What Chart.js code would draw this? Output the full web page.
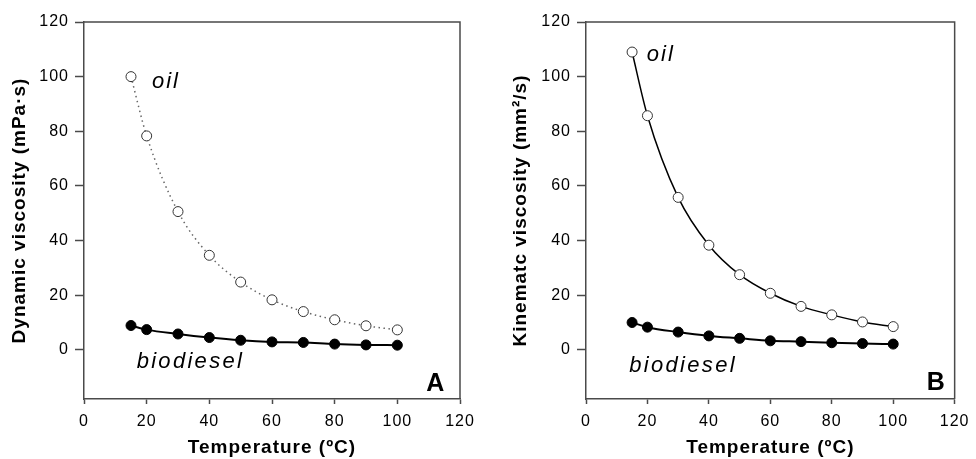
<!DOCTYPE html>
<html>
<head>
<meta charset="utf-8">
<script src="https://cdn.jsdelivr.net/npm/chart.js@4/dist/chart.umd.min.js"></script>
<style>
    html, body { margin: 0; padding: 0; background: #fff; }
    .wrap { display: flex; width: 976px; height: 459px; }
    .panel { position: relative; width: 488px; height: 459px; }
</style>
</head>
<body>
<div class="wrap">
    <div class="panel"><canvas id="chartA"></canvas></div>
    <div class="panel"><canvas id="chartB"></canvas></div>
</div>
<script>
// Data
const temperature = [15, 20, 30, 40, 50, 60, 70, 80, 90, 100];
const oilDynamic = [100, 78.3, 50.6, 34.6, 24.8, 18.3, 14.0, 11.0, 8.8, 7.3];
const biodieselDynamic = [8.9, 7.4, 5.8, 4.5, 3.5, 2.9, 2.7, 2.1, 1.8, 1.7];
const oilKinematic = [109, 85.7, 55.8, 38.3, 27.5, 20.7, 15.9, 12.8, 10.2, 8.5];
const biodieselKinematic = [10.0, 8.3, 6.5, 5.1, 4.2, 3.3, 3.0, 2.6, 2.3, 2.1];
const xTickValues = [0, 20, 40, 60, 80, 100, 120];
const yTickValues = [0, 20, 40, 60, 80, 100, 120];

const FONT = '"Liberation Sans", Arial, sans-serif';
const AXIS_COLOR = '#4a4a4a';

function toPoints(xs, ys) {
    return xs.map((x, i) => ({ x: x, y: ys[i] }));
}

// Text labels inside the plot, placed in data units
const textLabels = {
    id: 'textLabels',
    afterDatasetsDraw(chart, args, opts) {
        const ctx = chart.ctx;
        const xs = chart.scales.x;
        const ys = chart.scales.y;
        (opts.items || []).forEach(item => {
            ctx.save();
            ctx.font = item.font;
            ctx.letterSpacing = item.spacing || '0px';
            ctx.fillStyle = '#000';
            ctx.textAlign = 'left';
            ctx.textBaseline = 'alphabetic';
            ctx.fillText(item.text, xs.getPixelForValue(item.x), ys.getPixelForValue(item.y));
            ctx.restore();
        });
    }
};

// Top and right border of the plot box
const frame = {
    id: 'frame',
    beforeDatasetsDraw(chart) {
        const { ctx, chartArea } = chart;
        ctx.save();
        ctx.strokeStyle = AXIS_COLOR;
        ctx.lineWidth = 1.5;
        ctx.beginPath();
        ctx.moveTo(chartArea.left, chartArea.top);
        ctx.lineTo(chartArea.right, chartArea.top);
        ctx.lineTo(chartArea.right, chartArea.bottom);
        ctx.stroke();
        ctx.restore();
    }
};

// Slight letter spacing for axis text, as in the figure
const spacing = {
    id: 'spacing',
    beforeDraw(chart) { chart.ctx.letterSpacing = '1px'; },
    afterDraw(chart) { chart.ctx.letterSpacing = '0px'; }
};

function makeChart(canvasId, cfg) {
    const ctx = document.getElementById(canvasId).getContext('2d');
    return new Chart(ctx, {
        type: 'line',
        data: {
            datasets: [
                {
                    label: 'oil',
                    data: toPoints(temperature, cfg.oil),
                    borderColor: cfg.oilDotted ? '#666' : '#000',
                    borderWidth: 1.5,
                    borderDash: cfg.oilDotted ? [1.5, 3.5] : [],
                    cubicInterpolationMode: 'monotone',
                    pointRadius: 5,
                    pointBackgroundColor: '#fff',
                    pointBorderColor: '#333',
                    pointBorderWidth: 1
                },
                {
                    label: 'biodiesel',
                    data: toPoints(temperature, cfg.biodiesel),
                    borderColor: '#000',
                    borderWidth: 2,
                    cubicInterpolationMode: 'monotone',
                    pointRadius: 5,
                    pointBackgroundColor: '#000',
                    pointBorderColor: '#000',
                    pointBorderWidth: 1
                }
            ]
        },
        options: {
            responsive: false,
            animation: false,
            layout: { padding: { left: 0, top: 22, right: cfg.padRight, bottom: 0 } },
            plugins: {
                legend: { display: false },
                tooltip: { enabled: false },
                textLabels: { items: cfg.labels }
            },
            scales: {
                x: {
                    type: 'linear',
                    min: 0,
                    max: 120,
                    afterBuildTicks: s => { s.ticks = xTickValues.map(v => ({ value: v })); },
                    afterFit: s => { s.height = 60; },
                    ticks: { font: { family: FONT, size: 16 }, color: '#000', padding: 8, maxRotation: 0 },
                    grid: { drawOnChartArea: false, tickLength: 5, tickColor: AXIS_COLOR, tickWidth: 1.5 },
                    border: { color: AXIS_COLOR, width: 1.5 },
                    title: {
                        display: true,
                        text: 'Temperature (ºC)',
                        color: '#000',
                        font: { family: FONT, size: 19, weight: 'bold' },
                        padding: { top: 0, bottom: 0 }
                    }
                },
                y: {
                    min: -18,
                    max: 120,
                    afterBuildTicks: s => { s.ticks = yTickValues.map(v => ({ value: v })); },
                    afterFit: s => { s.width = cfg.yWidth; },
                    ticks: { font: { family: FONT, size: 16 }, color: '#000', padding: 6 },
                    grid: { drawOnChartArea: false, tickLength: 9, tickColor: AXIS_COLOR, tickWidth: 1.5 },
                    border: { color: AXIS_COLOR, width: 1.5 },
                    title: {
                        display: true,
                        text: cfg.yTitle,
                        color: '#000',
                        font: { family: FONT, size: 19, weight: 'bold' },
                        padding: { top: cfg.yTitlePad, bottom: 0 }
                    }
                }
            }
        },
        plugins: [spacing, frame, textLabels]
    });
}

['chartA', 'chartB'].forEach(id => {
    const c = document.getElementById(id);
    c.width = 488;
    c.height = 459;
});

makeChart('chartA', {
    oil: oilDynamic,
    biodiesel: biodieselDynamic,
    oilDotted: true,
    yTitle: 'Dynamic viscosity (mPa·s)',
    yWidth: 84,
    yTitlePad: 8,
    padRight: 28,
    labels: [
        { text: 'oil', x: 21.7, y: 95.8, font: 'italic 22px ' + FONT, spacing: '2px' },
        { text: 'biodiesel', x: 16.8, y: -6.6, font: 'italic 22px ' + FONT, spacing: '2.3px' },
        { text: 'A', x: 109.2, y: -14.9, font: 'bold 25px ' + FONT }
    ]
});

makeChart('chartB', {
    oil: oilKinematic,
    biodiesel: biodieselKinematic,
    oilDotted: false,
    yTitle: 'Kinematc viscosity (mm²/s)',
    yWidth: 98,
    yTitlePad: 21,
    padRight: 15,
    labels: [
        { text: 'oil', x: 19.8, y: 105.9, font: 'italic 22px ' + FONT, spacing: '2px' },
        { text: 'biodiesel', x: 14.1, y: -8.0, font: 'italic 22px ' + FONT, spacing: '2.3px' },
        { text: 'B', x: 110.9, y: -14.6, font: 'bold 25px ' + FONT }
    ]
});
</script>
</body>
</html>
